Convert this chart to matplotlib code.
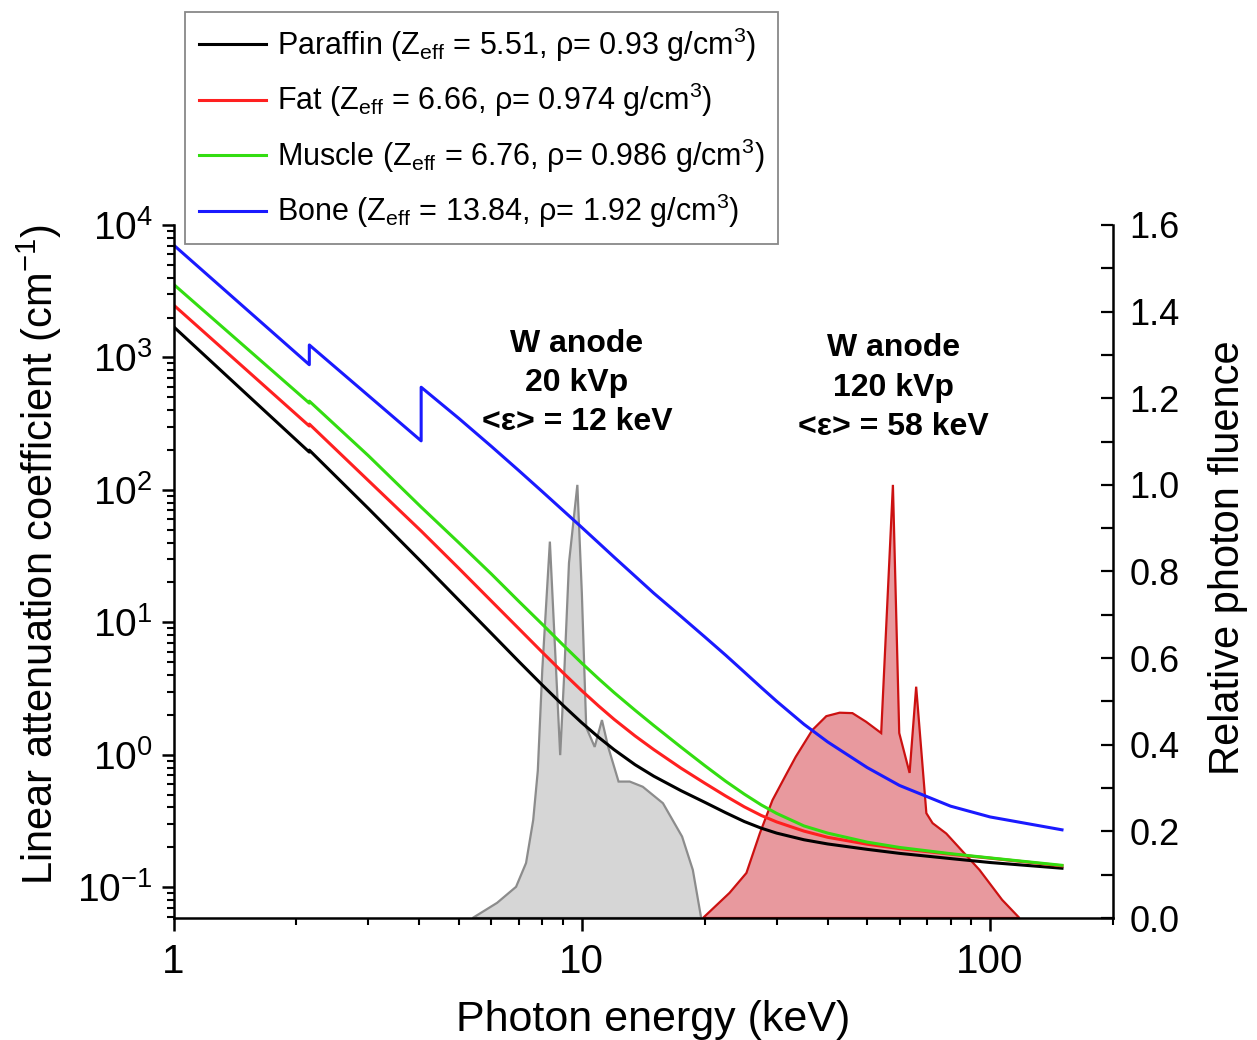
import matplotlib
matplotlib.use('Agg')
import matplotlib.pyplot as plt
from matplotlib.ticker import LogLocator, NullFormatter, MultipleLocator, FixedLocator, FixedFormatter

plt.rcParams['font.family'] = ['Liberation Sans', 'DejaVu Sans']
plt.rcParams['mathtext.fontset'] = 'custom'
plt.rcParams['mathtext.rm'] = 'Liberation Sans'
plt.rcParams['mathtext.it'] = 'Liberation Sans:italic'
plt.rcParams['mathtext.bf'] = 'Liberation Sans:bold'

###############################################################################
# attenuation curves (keV, cm^-1); absorption edges appear as repeated energies
energy = [1, 1.5, 2.15, 2.15, 3, 4.04, 4.04, 5, 6, 7, 8, 9, 10, 11, 12, 13.5, 15,
          17.5, 20, 22.5, 25, 27.5, 30, 35, 40, 50, 60, 80, 100, 150]
mu_paraffin = [1706, 537, 192.8, 199.5, 72.3, 28.7, 28.7, 14.66, 8.26, 5.08, 3.36,
               2.355, 1.742, 1.352, 1.091, 0.841, 0.689, 0.535, 0.4375, 0.365,
               0.313, 0.279, 0.256, 0.228, 0.212, 0.193, 0.180, 0.1644, 0.1535, 0.139]
mu_fat = [2489, 817, 303.4, 314, 117.5, 48.9, 48.9, 25.5, 14.49, 8.99, 5.94, 4.15,
          3.04, 2.33, 1.849, 1.387, 1.094, 0.791, 0.610, 0.488, 0.404, 0.348,
          0.311, 0.265, 0.238, 0.211, 0.1954, 0.1774, 0.1656, 0.1449]
mu_muscle = [3565, 1194, 451.9, 467.7, 181.1, 74.1, 74.1, 39.8, 23.2, 14.45, 9.66,
             6.73, 4.91, 3.74, 2.944, 2.168, 1.663, 1.140, 0.828, 0.631, 0.504,
             0.418, 0.3606, 0.290, 0.256, 0.2188, 0.1995, 0.179, 0.1663, 0.1462]
mu_bone = [7063, 2344, 881, 1242, 515, 234.4, 595.7, 345.9, 213.3, 140.3, 97.0,
           69.8, 52.0, 39.7, 31.0, 22.3, 16.6, 11.07, 7.76, 5.65, 4.21, 3.22,
           2.535, 1.698, 1.250, 0.800, 0.586, 0.409, 0.339, 0.271]

materials = ['Paraffin (Z$_{\\rm eff}$ = 5.51, \u03c1= 0.93 g/cm$^{3}$)',
             'Fat (Z$_{\\rm eff}$ = 6.66, \u03c1= 0.974 g/cm$^{3}$)',
             'Muscle (Z$_{\\rm eff}$ = 6.76, \u03c1= 0.986 g/cm$^{3}$)',
             'Bone (Z$_{\\rm eff}$ = 13.84, \u03c1= 1.92 g/cm$^{3}$)']
colors = ['#000000', '#ff2020', '#33dd11', '#1a1aff']

# W anode spectra, relative fluence
e_20kvp = [5.4, 6.2, 6.9, 7.3, 7.6, 7.8, 8.0, 8.35, 8.85, 9.05, 9.3, 9.75, 10.0,
           10.25, 10.75, 11.2, 11.6, 12.3, 13.1, 14.1, 15.8, 17.6, 18.7, 19.6]
f_20kvp = [0, 0.035, 0.072, 0.127, 0.226, 0.34, 0.573, 0.869, 0.376, 0.56, 0.82,
           1.0, 0.75, 0.44, 0.395, 0.457, 0.395, 0.315, 0.315, 0.303, 0.265,
           0.188, 0.111, 0]
e_120kvp = [19.8, 23.0, 25.3, 27.3, 29.3, 31.6, 33.4, 36.7, 39.7, 42.8, 46,
            49.7, 54.1, 57.8, 59.9, 63.5, 65.9, 69.8, 72.3, 78.1, 94.2, 107, 118]
f_120kvp = [0, 0.058, 0.104, 0.196, 0.272, 0.33, 0.372, 0.434, 0.466, 0.474,
            0.473, 0.453, 0.427, 1.0, 0.427, 0.335, 0.534, 0.242, 0.219, 0.195,
            0.111, 0.042, 0]

ytick_vals = [0.1, 1, 10, 100, 1000, 10000]
ytick_labels = ['$10^{-1}$', '$10^{0}$', '$10^{1}$', '$10^{2}$', '$10^{3}$', '$10^{4}$']
xtick_vals = [1, 10, 100]
xtick_labels = ['1', '10', '100']
ftick_vals = [0.0, 0.2, 0.4, 0.6, 0.8, 1.0, 1.2, 1.4, 1.6]
ftick_labels = ['%.1f' % v for v in ftick_vals]

###############################################################################
fig = plt.figure(figsize=(12.57, 10.4), dpi=100)
ax = fig.add_axes([173.6 / 1257, 122 / 1040, 939.4 / 1257, 693 / 1040])
ax2 = ax.twinx()
ax.set_zorder(ax2.get_zorder() + 1)
ax.patch.set_visible(False)

# spectra on the fluence axis
ax2.fill(e_20kvp, f_20kvp, facecolor='#d6d6d6', edgecolor='#8c8c8c', lw=1.6)
ax2.fill(e_120kvp, f_120kvp, facecolor='#e8999e', edgecolor='#cc1111', lw=1.6)

lines = []
for mu, lab, c in zip([mu_paraffin, mu_fat, mu_muscle, mu_bone], materials, colors):
    ln, = ax.plot(energy, mu, color=c, lw=2.2, label=lab)
    lines.append(ln)

ax.set_xscale('log')
ax.set_yscale('log')
ax.set_xlim(1, 200)
ax.set_ylim(0.0585, 1e4)
ax2.set_ylim(0, 1.6)

ax.xaxis.set_major_locator(FixedLocator(xtick_vals))
ax.xaxis.set_major_formatter(FixedFormatter(xtick_labels))
ax.xaxis.set_minor_locator(LogLocator(base=10, subs=range(2, 10)))
ax.xaxis.set_minor_formatter(NullFormatter())
ax.yaxis.set_major_locator(FixedLocator(ytick_vals))
ax.yaxis.set_major_formatter(FixedFormatter(ytick_labels))
ax.yaxis.set_minor_locator(LogLocator(base=10, subs=range(2, 10)))
ax.yaxis.set_minor_formatter(NullFormatter())
ax2.yaxis.set_major_locator(FixedLocator(ftick_vals))
ax2.yaxis.set_major_formatter(FixedFormatter(ftick_labels))
ax2.yaxis.set_minor_locator(MultipleLocator(0.1))

for a in (ax, ax2):
    a.spines['top'].set_visible(False)
    for s in a.spines.values():
        s.set_linewidth(1.8)
ax.spines['right'].set_visible(False)
ax2.spines['left'].set_visible(False)
ax2.spines['bottom'].set_visible(False)

ax.tick_params(which='major', direction='out', length=9, width=1.8, labelsize=28, pad=6)
ax.tick_params(axis='x', which='major', labelsize=29, pad=9)
ax.tick_params(which='minor', direction='out', length=5, width=1.5)
ax2.tick_params(axis='y', which='both', direction='in', length=9, width=1.6,
                labelsize=26, pad=12)

ax.set_xlabel('Photon energy (keV)', fontsize=31)
ax.xaxis.set_label_coords(0.51, -0.118)
ax.set_ylabel('Linear attenuation coefficient (cm$^{-1}$)', fontsize=30)
ax.yaxis.set_label_coords(-0.117, 0.525)
ax2.set_ylabel('Relative photon fluence', fontsize=30)
ax2.yaxis.set_label_coords(1.101, 0.52)

ax.text(0.4294, 0.772, 'W anode\n20 kVp\n<\u03b5> = 12 keV', transform=ax.transAxes,
        ha='center', va='center', fontsize=23, fontweight='bold', linespacing=1.39)
ax.text(0.766, 0.765, 'W anode\n120 kVp\n<\u03b5> = 58 keV', transform=ax.transAxes,
        ha='center', va='center', fontsize=23, fontweight='bold', linespacing=1.41)

leg = fig.legend(handles=lines, loc='upper left', bbox_to_anchor=(185 / 1257, 1 - 12 / 1040),
                 bbox_transform=fig.transFigure, borderaxespad=0, fontsize=22,
                 handlelength=2.2, handletextpad=0.35, labelspacing=0.56, borderpad=0.45,
                 fancybox=False, framealpha=1, edgecolor='#888888')
leg.get_frame().set_linewidth(1.3)

fig.savefig('out.png', dpi=100)
